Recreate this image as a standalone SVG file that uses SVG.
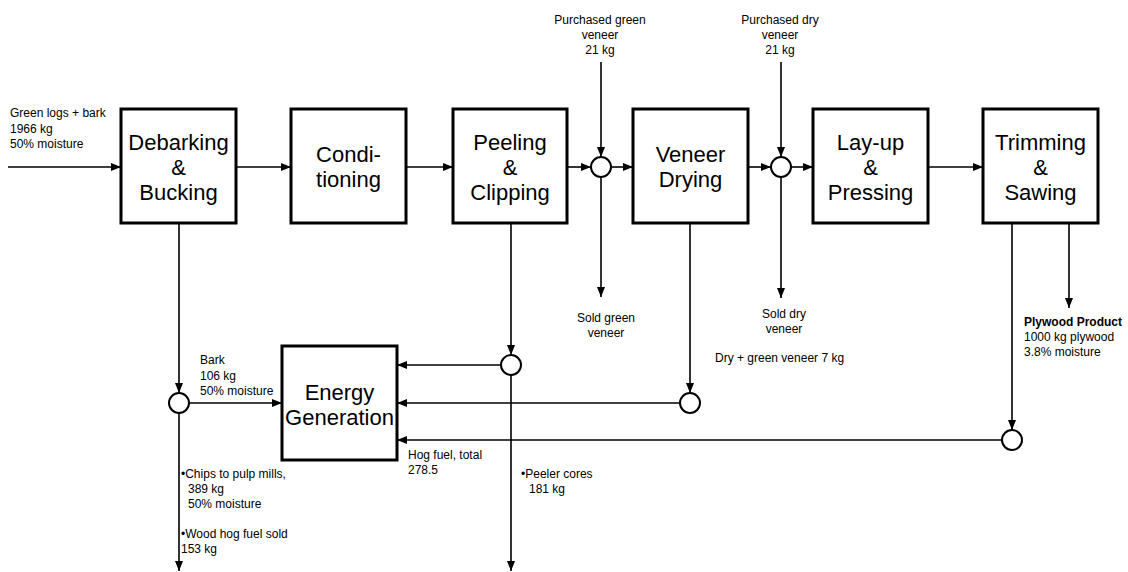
<svg xmlns="http://www.w3.org/2000/svg" width="1128" height="572" viewBox="0 0 1128 572">
<style>
.box{fill:#fff;stroke:#000;stroke-width:3}
.jn{fill:#fff;stroke:#000;stroke-width:2}
.c{fill:none;stroke:#000;stroke-width:1.6}
.a{marker-end:url(#ah)}
.big{font-family:"Liberation Sans",Arial,sans-serif;font-size:22px;text-anchor:middle;fill:#000}
.sm{font-family:"Liberation Sans",Arial,sans-serif;font-size:12px;fill:#000}
.mid{text-anchor:middle}
.b{font-weight:bold}
</style>
<defs>
<marker id="ah" viewBox="0 0 10 8" refX="10" refY="4" markerWidth="10" markerHeight="8" markerUnits="userSpaceOnUse" orient="auto">
<path d="M0,0 L10,4 L0,8 Z" fill="#000"/>
</marker>
</defs>
<rect width="1128" height="572" fill="#fff"/>
<g id="connectors">
<line class="c a" x1="8" y1="167" x2="121" y2="167"/>
<line class="c a" x1="236" y1="167" x2="291" y2="167"/>
<line class="c a" x1="406" y1="167" x2="453" y2="167"/>
<line class="c a" x1="567" y1="167" x2="591" y2="167"/>
<line class="c a" x1="611" y1="167" x2="633" y2="167"/>
<line class="c a" x1="748" y1="167" x2="771" y2="167"/>
<line class="c a" x1="791" y1="167" x2="813" y2="167"/>
<line class="c a" x1="928" y1="167" x2="983" y2="167"/>
<line class="c a" x1="601" y1="62" x2="601" y2="157"/>
<line class="c a" x1="781" y1="62" x2="781" y2="157"/>
<line class="c a" x1="601" y1="177" x2="601" y2="297"/>
<line class="c a" x1="781" y1="177" x2="781" y2="298"/>
<line class="c a" x1="179" y1="223" x2="179" y2="393"/>
<line class="c a" x1="179" y1="413" x2="179" y2="571"/>
<line class="c a" x1="189" y1="403" x2="282" y2="403"/>
<line class="c a" x1="511" y1="223" x2="511" y2="355"/>
<line class="c a" x1="511" y1="375" x2="511" y2="571"/>
<line class="c a" x1="501" y1="365" x2="397" y2="365"/>
<line class="c a" x1="690" y1="223" x2="690" y2="393"/>
<line class="c a" x1="680" y1="403" x2="397" y2="403"/>
<line class="c a" x1="1012" y1="223" x2="1012" y2="430"/>
<line class="c a" x1="1002" y1="440" x2="397" y2="440"/>
<line class="c a" x1="1069" y1="223" x2="1069" y2="308"/>
</g>
<g id="debarking"><rect class="box" x="121" y="109" width="115" height="114"/><text class="big" x="178.5" y="150">Debarking</text><text class="big" x="178.5" y="175">&amp;</text><text class="big" x="178.5" y="200">Bucking</text></g>
<g id="conditioning"><rect class="box" x="291" y="109" width="115" height="114"/><text class="big" x="348.5" y="162">Condi-</text><text class="big" x="348.5" y="187">tioning</text></g>
<g id="peeling"><rect class="box" x="453" y="109" width="114" height="114"/><text class="big" x="510" y="150">Peeling</text><text class="big" x="510" y="175">&amp;</text><text class="big" x="510" y="200">Clipping</text></g>
<g id="drying"><rect class="box" x="633" y="109" width="115" height="114"/><text class="big" x="690.5" y="162">Veneer</text><text class="big" x="690.5" y="187">Drying</text></g>
<g id="layup"><rect class="box" x="813" y="109" width="115" height="114"/><text class="big" x="870.5" y="150">Lay-up</text><text class="big" x="870.5" y="175">&amp;</text><text class="big" x="870.5" y="200">Pressing</text></g>
<g id="trimming"><rect class="box" x="983" y="109" width="115" height="114"/><text class="big" x="1040.5" y="150">Trimming</text><text class="big" x="1040.5" y="175">&amp;</text><text class="big" x="1040.5" y="200">Sawing</text></g>
<g id="energy"><rect class="box" x="282" y="346" width="115" height="114"/><text class="big" x="339.5" y="400">Energy</text><text class="big" x="339.5" y="425">Generation</text></g>
<g id="j-green"><circle class="jn" cx="601" cy="167" r="10"/></g>
<g id="j-dry"><circle class="jn" cx="781" cy="167" r="10"/></g>
<g id="j-bark"><circle class="jn" cx="179" cy="403" r="10"/></g>
<g id="j-peel"><circle class="jn" cx="511" cy="365" r="10"/></g>
<g id="j-dryout"><circle class="jn" cx="690" cy="403" r="10"/></g>
<g id="j-trim"><circle class="jn" cx="1012" cy="440" r="10"/></g>
<g id="labels">
<text class="sm" x="10" y="117">Green logs + bark</text>
<text class="sm" x="10" y="133">1966 kg</text>
<text class="sm" x="10" y="148">50% moisture</text>
<text class="sm mid" x="600" y="24">Purchased green</text>
<text class="sm mid" x="600" y="39">veneer</text>
<text class="sm mid" x="600" y="54">21 kg</text>
<text class="sm mid" x="780" y="24">Purchased dry</text>
<text class="sm mid" x="780" y="39">veneer</text>
<text class="sm mid" x="780" y="54">21 kg</text>
<text class="sm mid" x="606" y="322">Sold green</text>
<text class="sm mid" x="606" y="337">veneer</text>
<text class="sm mid" x="784" y="318">Sold dry</text>
<text class="sm mid" x="784" y="333">veneer</text>
<text class="sm" x="715" y="362">Dry + green veneer 7 kg</text>
<text class="sm b" x="1024" y="326">Plywood Product</text>
<text class="sm" x="1024" y="341">1000 kg plywood</text>
<text class="sm" x="1024" y="356">3.8% moisture</text>
<text class="sm" x="200" y="364">Bark</text>
<text class="sm" x="200" y="380">106 kg</text>
<text class="sm" x="200" y="395">50% moisture</text>
<text class="sm" x="408" y="459">Hog fuel, total</text>
<text class="sm" x="408" y="474">278.5</text>
<text class="sm" x="181" y="478">•Chips to pulp mills,</text>
<text class="sm" x="188" y="493">389 kg</text>
<text class="sm" x="188" y="508">50% moisture</text>
<text class="sm" x="181" y="538">•Wood hog fuel sold</text>
<text class="sm" x="181" y="553">153 kg</text>
<text class="sm" x="521" y="478">•Peeler cores</text>
<text class="sm" x="529" y="493">181 kg</text>
</g>
</svg>
